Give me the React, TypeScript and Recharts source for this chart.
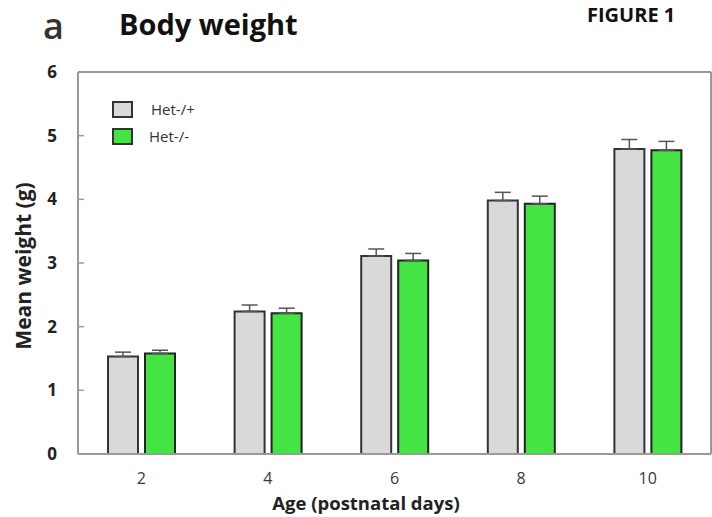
import React from 'react';
import { BarChart, Bar, XAxis, YAxis, ErrorBar, Legend } from 'recharts';

const days = ['2', '4', '6', '8', '10'];
const hetPlus = [1.53, 2.24, 3.11, 3.98, 4.79];
const hetMinus = [1.58, 2.21, 3.04, 3.93, 4.77];
const errPlus = [0.07, 0.1, 0.11, 0.13, 0.15];
const errMinus = [0.05, 0.08, 0.11, 0.12, 0.14];
const yTicks = [0, 1, 2, 3, 4, 5, 6];

const data = days.map((d, i) => ({
  day: d,
  plus: hetPlus[i],
  minus: hetMinus[i],
  ePlus: [0, errPlus[i]],
  eMinus: [0, errMinus[i]],
}));

const FONT = '"Open Sans", "Liberation Sans", sans-serif';
const GRAY = '#d9d9d9';
const GREEN = '#44e444';
const FRAME = '#9a9a9a';

const YTick = (props: any) => {
  const { x, y, payload } = props;
  return (
    <text x={x} y={y} dy="0.36em" textAnchor="end" fontFamily={FONT} fontWeight={700} fontSize={17} fill="#222">
      {payload.value}
    </text>
  );
};

const XTick = (props: any) => {
  const { x, y, payload } = props;
  return (
    <text x={x} y={y + 30} textAnchor="middle" fontFamily={FONT} fontSize={16} fill="#383838">
      {payload.value}
    </text>
  );
};

const LegendContent = (props: any) => {
  const items = [
    { label: 'Het-/+', color: GRAY },
    { label: 'Het-/-', color: GREEN },
  ];
  return (
    <div style={{ position: 'relative', width: 120, height: 50 }}>
      {items.map((it, i) => (
        <div key={it.label} style={{ position: 'absolute', left: 0, top: i * 27, display: 'flex', alignItems: 'center' }}>
          <div style={{ width: 17, height: 13, background: it.color, border: '2px solid #333', boxSizing: 'content-box' }} />
          <span style={{ marginLeft: 18 - i * 2, fontFamily: FONT, fontSize: 15, color: '#333' }}>{it.label}</span>
        </div>
      ))}
    </div>
  );
};

export default function App() {
  return (
    <div style={{ position: 'absolute', left: 0, top: 0, width: 712, height: 517, background: '#fff' }}>
      <svg width={712} height={517} style={{ position: 'absolute', left: 0, top: 0 }}>
        <text x={43} y={39} fontFamily={FONT} fontWeight={600} fontSize={36} fill="#333">a</text>
        <text x={119} y={35} fontFamily={FONT} fontWeight={700} fontSize={29} fill="#111">Body weight</text>
        <text x={587} y={22} fontFamily={FONT} fontWeight={700} fontSize={20} fill="#111">FIGURE 1</text>
        <text
          x={0}
          y={0}
          transform="translate(31,266) rotate(-90)"
          textAnchor="middle"
          fontFamily={FONT}
          fontWeight={700}
          fontSize={21}
          fill="#222"
        >
          Mean weight (g)
        </text>
        <text x={366} y={510} textAnchor="middle" fontFamily={FONT} fontWeight={700} fontSize={18.5} fill="#222">
          Age (postnatal days)
        </text>
      </svg>
      <div style={{ position: 'absolute', left: 0, top: 0 }}>
        <BarChart
          width={712}
          height={517}
          data={data}
          margin={{ top: 71, right: 0, bottom: 33, left: 18 }}
          barGap={7}
          barSize={30}
        >
          <XAxis
            dataKey="day"
            axisLine={{ stroke: FRAME, strokeWidth: 2 }}
            tickLine={false}
            tickSize={0}
            tickMargin={0}
            height={30}
            tick={<XTick />}
            interval={0}
          />
          <XAxis
            xAxisId="top"
            orientation="top"
            dataKey="day"
            axisLine={{ stroke: FRAME, strokeWidth: 2 }}
            tickLine={false}
            tick={false}
            height={1}
          />
          <YAxis
            domain={[0, 6]}
            ticks={yTicks}
            width={60}
            axisLine={{ stroke: FRAME, strokeWidth: 2 }}
            tickLine={{ stroke: FRAME, strokeWidth: 1.5 }}
            tickSize={-6}
            tickMargin={27}
            tick={<YTick />}
            interval={0}
          />
          <YAxis
            yAxisId="r"
            orientation="right"
            domain={[0, 6]}
            width={1}
            axisLine={{ stroke: FRAME, strokeWidth: 2 }}
            tickLine={false}
            tick={false}
          />
          <Legend
            layout="horizontal"
            verticalAlign="middle"
            align="center"
            wrapperStyle={{ position: 'absolute', left: 112, top: 99, width: 140, height: 50 }}
            content={<LegendContent />}
          />
          <Bar dataKey="plus" name="Het-/+" fill={GRAY} stroke="#333" strokeWidth={2} isAnimationActive={false}>
            <ErrorBar dataKey="ePlus" width={8} stroke="#555" strokeWidth={1.5} direction="y" />
          </Bar>
          <Bar dataKey="minus" name="Het-/-" fill={GREEN} stroke="#222" strokeWidth={2} isAnimationActive={false}>
            <ErrorBar dataKey="eMinus" width={8} stroke="#555" strokeWidth={1.5} direction="y" />
          </Bar>
        </BarChart>
      </div>
    </div>
  );
}
